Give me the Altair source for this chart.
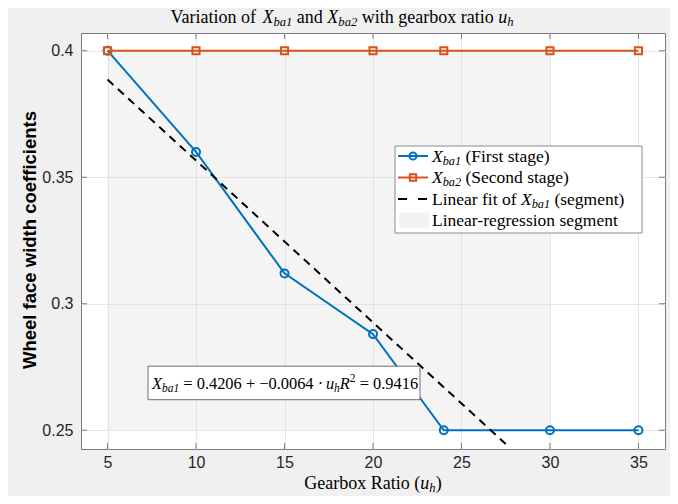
import altair as alt
import pandas as pd

# ---------------- data ----------------
ratio = [5, 10, 15, 20, 24, 30, 35]
xba1 = [0.400, 0.360, 0.312, 0.288, 0.250, 0.250, 0.250]
xba2 = [0.400, 0.400, 0.400, 0.400, 0.400, 0.400, 0.400]
fit_x = [5.0, 27.5]
fit_y = [0.3886, 0.2446]
seg_x = [5, 30]
seg_y = [0.25, 0.40]
x_ticks = [5, 10, 15, 20, 25, 30, 35]
y_ticks = [0.25, 0.30, 0.35, 0.40]

BLUE = "#0072BD"
ORANGE = "#D95319"
FRAME = "#7a7a7a"
SERIF = "Liberation Serif"
SANS = "Liberation Sans"
W, H = 584, 416
SY = H / 422.0
XDOM = [3.5, 36.5]
YDOM = [0.2426, 0.407]

xs = alt.Scale(domain=XDOM, nice=False, zero=False)
ys = alt.Scale(domain=YDOM, nice=False, zero=False)

lines_df = pd.DataFrame({"u": ratio, "a": xba1, "b": xba2})
fit_df = pd.DataFrame({"u": fit_x, "v": fit_y})
seg_df = pd.DataFrame({"x1": [seg_x[0]], "x2": [seg_x[1]], "y1": [seg_y[0]], "y2": [seg_y[1]]})
xt_df = pd.DataFrame({"t": x_ticks})
yt_df = pd.DataFrame({"t": y_ticks})
one = pd.DataFrame({"k": [0]})

# ---------------- rich text helper (Times metrics) ----------------
REG = {' ': 250, '(': 333, ')': 333, '+': 564, '-': 333, '.': 250, '=': 564, '·': 250, '−': 564,
       'A': 722, 'F': 556, 'G': 722, 'L': 611, 'R': 667, 'S': 556, 'V': 722, 'X': 722,
       'a': 444, 'b': 500, 'c': 444, 'd': 500, 'e': 444, 'f': 333, 'g': 500, 'h': 500, 'i': 278,
       'k': 500, 'l': 278, 'm': 778, 'n': 500, 'o': 500, 'p': 500, 'r': 333, 's': 389, 't': 278,
       'u': 500, 'w': 722, 'x': 500, 'y': 500}
ITA = {'X': 611, 'R': 611, 'b': 500, 'a': 500, 'u': 500, 'h': 500}


def tw(text, italic):
    tot = 0
    for ch in text:
        if ch.isdigit():
            tot += 500
        elif italic and ch in ITA:
            tot += ITA[ch]
        else:
            tot += REG.get(ch, 500)
    return tot / 1000.0


def rich(pieces, x0, y0, fs, center=False, sub_drop=0.18):
    def size_of(kind):
        return fs * 0.7 if kind in ("sub", "sup") else fs
    total = sum(tw(t, it) * size_of(k) for t, it, k in pieces)
    x = x0 - total / 2 if center else x0
    out = []
    for t, it, k in pieces:
        sz = size_of(k)
        dy = sub_drop * fs if k == "sub" else (-0.40 * fs if k == "sup" else 0)
        lead = len(t) - len(t.lstrip(" "))
        s = t.strip(" ")
        if s:
            out.append(
                alt.Chart(one).mark_text(
                    text=s, align="left", baseline="alphabetic", font=SERIF,
                    fontSize=sz, fontStyle="italic" if it else "normal", color="#000000"
                ).encode(x=alt.value(x + lead * 0.25 * sz), y=alt.value(y0 + dy))
            )
        x += tw(t, it) * sz
    return out


# ---------------- plot layers ----------------
seg = alt.Chart(seg_df).mark_rect(color="#d9d9d9", opacity=0.3).encode(
    x=alt.X("x1:Q", scale=xs, axis=alt.Axis(values=x_ticks, title=None)),
    x2="x2:Q",
    y=alt.Y("y1:Q", scale=ys, axis=alt.Axis(values=y_ticks, title=None, format="~g")),
    y2="y2:Q",
)

blue_line = alt.Chart(lines_df).mark_line(color=BLUE, strokeWidth=2).encode(
    x=alt.X("u:Q", scale=xs), y=alt.Y("a:Q", scale=ys))
blue_pts = alt.Chart(lines_df).mark_point(shape="circle", filled=False, size=64, strokeWidth=2,
                                          color=BLUE, opacity=1).encode(
    x=alt.X("u:Q", scale=xs), y=alt.Y("a:Q", scale=ys))
orange_line = alt.Chart(lines_df).mark_line(color=ORANGE, strokeWidth=2).encode(
    x=alt.X("u:Q", scale=xs), y=alt.Y("b:Q", scale=ys))
orange_pts = alt.Chart(lines_df).mark_point(shape="square", filled=False, size=50, strokeWidth=2,
                                            color=ORANGE, opacity=1).encode(
    x=alt.X("u:Q", scale=xs), y=alt.Y("b:Q", scale=ys))
fit = alt.Chart(fit_df).mark_line(color="#000000", strokeWidth=2, strokeDash=[8, 6]).encode(
    x=alt.X("u:Q", scale=xs), y=alt.Y("v:Q", scale=ys))

# inward ticks (MATLAB style)
tk = dict(color=FRAME, strokeWidth=1)
xt_bot = alt.Chart(xt_df).mark_rule(**tk).encode(x=alt.X("t:Q", scale=xs), y=alt.value(H), y2=alt.value(H - 6))
xt_top = alt.Chart(xt_df).mark_rule(**tk).encode(x=alt.X("t:Q", scale=xs), y=alt.value(0), y2=alt.value(6))
yt_l = alt.Chart(yt_df).mark_rule(**tk).encode(y=alt.Y("t:Q", scale=ys), x=alt.value(0), x2=alt.value(6))
yt_r = alt.Chart(yt_df).mark_rule(**tk).encode(y=alt.Y("t:Q", scale=ys), x=alt.value(W), x2=alt.value(W - 6))

# ---------------- legend ----------------
LX0, LX1, LY0, LY1 = 314, 561, 113, 200
leg_box = alt.Chart(one).mark_rect(fill="white", stroke="#8a8a8a", strokeWidth=1).encode(
    x=alt.value(LX0), x2=alt.value(LX1), y=alt.value(LY0), y2=alt.value(LY1))
rows = [123, 144.5, 166, 187.5]
SX0, SX1, SXM, TX = 317, 347, 332, 351
leg = [leg_box]
leg.append(alt.Chart(one).mark_rule(color=BLUE, strokeWidth=2).encode(
    x=alt.value(SX0), x2=alt.value(SX1), y=alt.value(rows[0])))
leg.append(alt.Chart(one).mark_point(shape="circle", filled=False, size=50, strokeWidth=2, color=BLUE,
                                     opacity=1).encode(x=alt.value(SXM), y=alt.value(rows[0])))
leg.append(alt.Chart(one).mark_rule(color=ORANGE, strokeWidth=2).encode(
    x=alt.value(SX0), x2=alt.value(SX1), y=alt.value(rows[1])))
leg.append(alt.Chart(one).mark_point(shape="square", filled=False, size=40, strokeWidth=2, color=ORANGE,
                                     opacity=1).encode(x=alt.value(SXM), y=alt.value(rows[1])))
leg.append(alt.Chart(one).mark_rule(color="#000000", strokeWidth=2, strokeDash=[9, 11]).encode(
    x=alt.value(SX0), x2=alt.value(SX1), y=alt.value(rows[2])))
leg.append(alt.Chart(one).mark_rect(color="#f2f2f2").encode(
    x=alt.value(SX0 + 1), x2=alt.value(SX1 + 1), y=alt.value(rows[3] - 8), y2=alt.value(rows[3] + 8)))

LFS = 17.5
bl = 5.5
leg += rich([("X", True, "n"), ("ba1", True, "sub"), (" (First stage)", False, "n")], TX, rows[0] + bl, LFS)
leg += rich([("X", True, "n"), ("ba2", True, "sub"), (" (Second stage)", False, "n")], TX, rows[1] + bl, LFS)
leg += rich([("Linear fit of ", False, "n"), ("X", True, "n"), ("ba1", True, "sub"),
             (" (segment)", False, "n")], TX, rows[2] + bl, LFS)
leg += rich([("Linear-regression segment", False, "n")], TX, rows[3] + bl, LFS)

# ---------------- annotation ----------------
AY0, AY1 = 338 * SY, 372 * SY
ann_box = alt.Chart(one).mark_rect(fill="white", stroke="#6e6e6e", strokeWidth=1).encode(
    x=alt.value(67), x2=alt.value(339), y=alt.value(AY0), y2=alt.value(AY1))
ann = [ann_box] + rich([("X", True, "n"), ("ba1", True, "sub"), (" = ", False, "n"), ("0.4206", False, "n"),
                        (" + ", False, "n"), ("−0.0064", False, "n"), (" · ", False, "n"), ("u", True, "n"),
                        ("h", True, "sub"), ("R", True, "n"), ("2", False, "sup"), (" = ", False, "n"),
                        ("0.9416", False, "n")], 71, AY1 - 11, 16.4)

# ---------------- titles ----------------
title = rich([("Variation of ", False, "n"), ("X", True, "n"), ("ba1", True, "sub"), (" and ", False, "n"),
              ("X", True, "n"), ("ba2", True, "sub"), (" with gearbox ratio ", False, "n"),
              ("u", True, "n"), ("h", True, "sub")], 261, -10, 18, center=True)
xtitle = rich([("Gearbox Ratio (", False, "n"), ("u", True, "n"), ("h", True, "sub"), (")", False, "n")],
              292, H + 40, 18, center=True, sub_drop=0.14)
ytitle = alt.Chart(one).mark_text(text="Wheel face width coefficients", angle=270, align="center",
                                  baseline="middle", font=SANS, fontSize=18.5, fontWeight="bold",
                                  color="#000000").encode(x=alt.value(-51), y=alt.value(H / 2 - 1))

layers = [seg, blue_line, blue_pts, orange_line, orange_pts, fit, xt_bot, xt_top, yt_l, yt_r] \
    + ann + leg + title + xtitle + [ytitle]

chart = alt.layer(*layers).properties(
    width=W, height=H,
    padding={"left": 73, "top": 25, "right": 5, "bottom": 47},
    autosize=alt.AutoSizeParams(type="none"),
).configure(background="#f0f0f0").configure_view(
    fill="white", stroke=FRAME, strokeWidth=1
).configure_axis(
    grid=True, gridColor="#e6e6e6", gridWidth=1, ticks=False, domain=False,
    labelFont=SANS, labelFontSize=16, labelColor="#262626",
).configure_axisX(labelPadding=5).configure_axisY(labelPadding=8)

chart.save("out.html", embed_options={"renderer": "svg", "actions": False})
